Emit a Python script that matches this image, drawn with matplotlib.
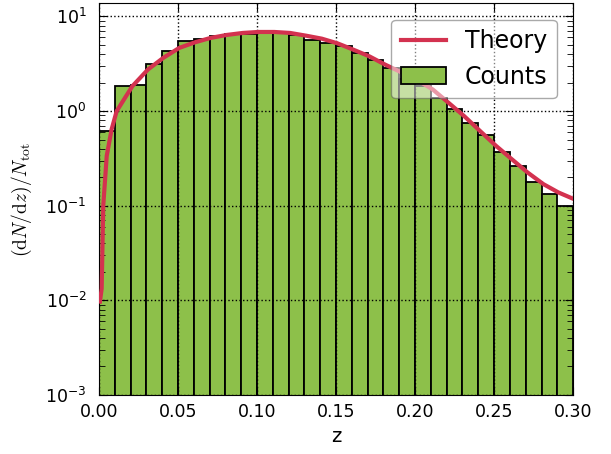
import numpy as np
import matplotlib
matplotlib.use("Agg")
import matplotlib.pyplot as plt

plt.rcParams['mathtext.fontset'] = 'cm'
plt.rcParams['font.family'] = 'DejaVu Sans'

# histogram: 30 bins of width 0.01 on 0..0.3
bin_left = np.arange(30) * 0.01
counts = [0.62, 1.83, 1.87, 3.15, 4.28, 5.55, 5.82, 6.16, 6.46, 6.58,
          6.74, 6.69, 6.42, 5.59, 5.25, 4.83, 4.12, 3.50, 2.86, 2.16,
          1.86, 1.38, 1.04, 0.74, 0.555, 0.37, 0.264, 0.179, 0.133, 0.0985]

# theory curve
theory_z = [0.0006, 0.0017, 0.0027, 0.0049, 0.0080, 0.0112, 0.0211, 0.0310,
            0.0407, 0.0508, 0.0608, 0.0707, 0.0808, 0.0910, 0.1008, 0.1110,
            0.1209, 0.1310, 0.1410, 0.1508, 0.1610, 0.1710, 0.1810, 0.2007,
            0.2112, 0.2210, 0.2310, 0.2411, 0.2513, 0.2612, 0.2711, 0.2812,
            0.2907, 0.3002]
theory_v = [0.0097, 0.0133, 0.100, 0.336, 0.642, 1.00, 1.83, 2.75,
            3.65, 4.65, 5.33, 5.93, 6.37, 6.69, 6.85, 6.85,
            6.69, 6.26, 5.82, 5.20, 4.45, 3.79, 3.10, 2.16,
            1.69, 1.23, 0.886, 0.616, 0.428, 0.310, 0.225, 0.169,
            0.138, 0.118]

fig = plt.figure(figsize=(6.11, 4.54), dpi=100)
ax = fig.add_axes([0.162, 0.130, 0.776, 0.863])

ax.bar(bin_left, counts, width=0.01, align='edge', color='#8dc04a',
       edgecolor='black', linewidth=1.3, label='Counts', zorder=2)
ax.plot(theory_z, theory_v, color='#d3324f', linewidth=3, label='Theory', zorder=3)

ax.set_yscale('log')
ax.set_xlim(0, 0.3)
ax.set_ylim(1e-3, 13.8)
ax.set_xticks(np.arange(0, 0.301, 0.05))
ax.grid(True, which='major', color='black', linestyle=':', linewidth=1.0)
ax.set_axisbelow(False)
ax.tick_params(which='both', direction='in', top=True, right=True, labelsize=12.5)
ax.tick_params(which='major', length=6)
ax.tick_params(which='minor', length=4)
ax.tick_params(axis='y', which='both', pad=9)
ax.tick_params(axis='x', which='both', pad=6)

ax.set_xlabel('z', fontsize=14)
ax.set_ylabel(r'$(\mathrm{d}N/\mathrm{d}z)/N_{\rm tot}$', fontsize=14, labelpad=8)

leg = ax.legend(loc='upper right', fontsize=17, framealpha=0.5, fancybox=True,
                borderaxespad=0.7, handlelength=1.9)
leg.get_frame().set_edgecolor('#555555')

fig.savefig('out.png', dpi=100)
